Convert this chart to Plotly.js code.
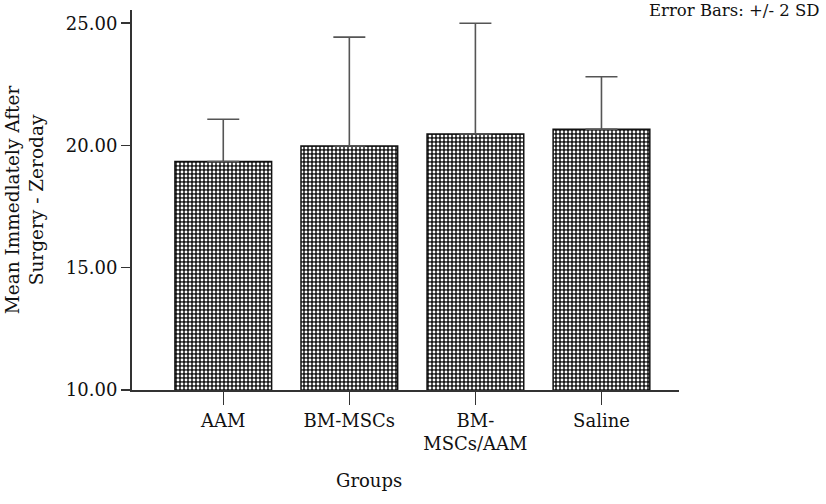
<!DOCTYPE html>
<html>
<head>
<meta charset="utf-8">
<script src="https://cdn.plot.ly/plotly-3.0.1.min.js"></script>
<style>html,body{margin:0;padding:0;background:#fff;}#chart{width:826px;height:504px;}</style>
</head>
<body>
<div id="chart"></div>
<script>
const groups = ["AAM", "BM-MSCs", "BM-<br>MSCs/AAM", "Saline"];
const means = [19.34, 19.98, 20.47, 20.66];
const errPlus2SD = [1.73, 4.45, 4.53, 2.15];
const yTicks = [10, 15, 20, 25];

const font = "DejaVu Serif, Liberation Serif, serif";

const trace = {
  type: "bar",
  x: groups,
  y: means,
  base: 0,
  marker: {
    color: "#1a1a1a",
    line: {color: "#111", width: 1.5},
    pattern: {shape: ".", fgcolor: "#ffffff", bgcolor: "#1a1a1a", size: 4, solidity: 0.4, fillmode: "replace"}
  },
  error_y: {type: "data", array: errPlus2SD, arrayminus: errPlus2SD.map(() => 0), symmetric: false,
            color: "#555", thickness: 1.6, width: 16},
  hoverinfo: "skip"
};

const layout = {
  width: 826, height: 504,
  margin: {l: 132, r: 147, t: 10, b: 114},
  paper_bgcolor: "#fff", plot_bgcolor: "#fff",
  showlegend: false,
  bargap: 0.233,
  font: {family: font, size: 18, color: "#111"},
  xaxis: {
    type: "category",
    range: [-0.724, 3.615],
    showgrid: false, zeroline: false,
    showline: true, linecolor: "#333", linewidth: 2,
    ticks: "outside", ticklen: 13, tickwidth: 1.5, tickcolor: "#333",
    tickfont: {family: font, size: 18, color: "#111"}
  },
  yaxis: {
    range: [10, 25.54],
    tickvals: yTicks,
    tickformat: ".2f",
    showgrid: false, zeroline: false,
    showline: true, linecolor: "#333", linewidth: 2,
    ticks: "outside", ticklen: 9, tickwidth: 1.5, tickcolor: "#333",
    tickfont: {family: font, size: 18, color: "#111"},
    title: {text: ""}
  },
  annotations: [
    {text: "Mean Immedlately After<br>Surgery - Zeroday", xref: "paper", yref: "paper",
     x: -0.197, y: 0.5, xanchor: "center", yanchor: "middle", textangle: -90, showarrow: false,
     font: {family: font, size: 18.5, color: "#111"}},
    {text: "Groups", xref: "paper", yref: "paper",
     x: (369 - 132) / 547, y: -0.237, xanchor: "center", yanchor: "middle", showarrow: false,
     font: {family: font, size: 18, color: "#111"}},
    {text: "Error Bars: +/- 2 SD", xref: "paper", yref: "paper",
     x: (822 - 132) / 547, y: 1.0, xanchor: "right", yanchor: "middle", showarrow: false,
     font: {family: font, size: 16.5, color: "#111"}}
  ]
};

Plotly.newPlot("chart", [trace], layout, {displayModeBar: false, staticPlot: true});
</script>
</body>
</html>
